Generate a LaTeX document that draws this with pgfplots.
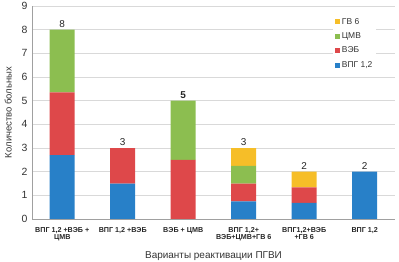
\documentclass[border=0pt]{standalone}
\usepackage{fontspec}
\setmainfont{Liberation Sans}
\usepackage{pgfplots}
\pgfplotsset{compat=1.18}
\definecolor{cblue}{RGB}{40,128,200}
\definecolor{cred}{RGB}{222,72,74}
\definecolor{cgreen}{RGB}{140,190,80}
\definecolor{cyellow}{RGB}{246,190,40}
\definecolor{cgrid}{RGB}{217,217,217}
\definecolor{caxis}{RGB}{160,160,160}
\begin{document}
\begin{tikzpicture}
\useasboundingbox (0,0) rectangle (399bp,262bp);
\begin{axis}[
  at={(32bp,43bp)}, anchor=south west,
  scale only axis, width=363bp, height=213bp,
  ybar stacked, bar width=25bp,
  xmin=-0.5, xmax=5.5, ymin=0, ymax=9,
  xtick={0,1,2,3,4,5},
  xticklabels={{ВПГ 1,2 +ВЭБ +\\ЦМВ},{ВПГ 1,2 +ВЭБ},{ВЭБ + ЦМВ},{ВПГ 1,2+\\ВЭБ+ЦМВ+ГВ 6},{ВПГ1,2+ВЭБ\\+ГВ 6},{ВПГ 1,2}},
  xticklabel style={font=\fontsize{7.2}{7.8}\selectfont\bfseries, align=center, text=black!85, yshift=-4.5bp},
  ytick={0,1,...,9},
  yticklabel style={font=\fontsize{10.5}{12}\selectfont, text=black!80, xshift=-1bp},
  /pgf/number format/assume math mode=true,
  major tick length=0pt,
  axis x line*=bottom, axis y line*=left,
  axis line style={caxis, -},
  ymajorgrids, grid style={cgrid, line width=0.8pt},
  ylabel={Количество больных},
  ylabel style={font=\fontsize{9.5}{11}\selectfont, text=black!80, yshift=3bp},
  xlabel={Варианты реактивации ПГВИ},
  xlabel style={font=\fontsize{10}{12}\selectfont, text=black!80, yshift=-4bp},
  legend style={at={(0.83,0.96)}, anchor=north west, draw=none, fill=white,
    font=\fontsize{8.5}{10}\selectfont, row sep=3bp, inner sep=1.5bp, text=black!80},
  legend cell align=left,
  reverse legend,
  legend image code/.code={\fill[#1] (0bp,-2.5bp) rectangle (5bp,2.5bp);},
]
\addplot[fill=cblue, draw=none] coordinates {(0,2.7) (1,1.5) (2,0) (3,0.75) (4,0.68) (5,2)};
\addlegendentry{ВПГ 1,2}
\addplot[fill=cred, draw=none] coordinates {(0,2.65) (1,1.5) (2,2.5) (3,0.75) (4,0.66) (5,0)};
\addlegendentry{ВЭБ}
\addplot[fill=cgreen, draw=none] coordinates {(0,2.65) (1,0) (2,2.5) (3,0.75) (4,0) (5,0)};
\addlegendentry{ЦМВ}
\addplot[fill=cyellow, draw=none] coordinates {(0,0) (1,0) (2,0) (3,0.75) (4,0.66) (5,0)};
\addlegendentry{ГВ 6}
\end{axis}
\begin{axis}[
  at={(32bp,43bp)}, anchor=south west,
  scale only axis, width=363bp, height=213bp,
  ybar, bar width=25bp,
  xmin=-0.5, xmax=5.5, ymin=0, ymax=9,
  hide axis,
]
\addplot[draw=none, fill=none,
  nodes near coords, point meta=explicit symbolic,
  every node near coord/.append style={font=\fontsize{10}{11}\selectfont, text=black!85, yshift=-1.5bp}]
  coordinates {(0,8) [8] (1,3) [3] (2,5) [\textbf{5}] (3,3) [3] (4,2) [2] (5,2) [2]};
\end{axis}
\end{tikzpicture}
\end{document}
